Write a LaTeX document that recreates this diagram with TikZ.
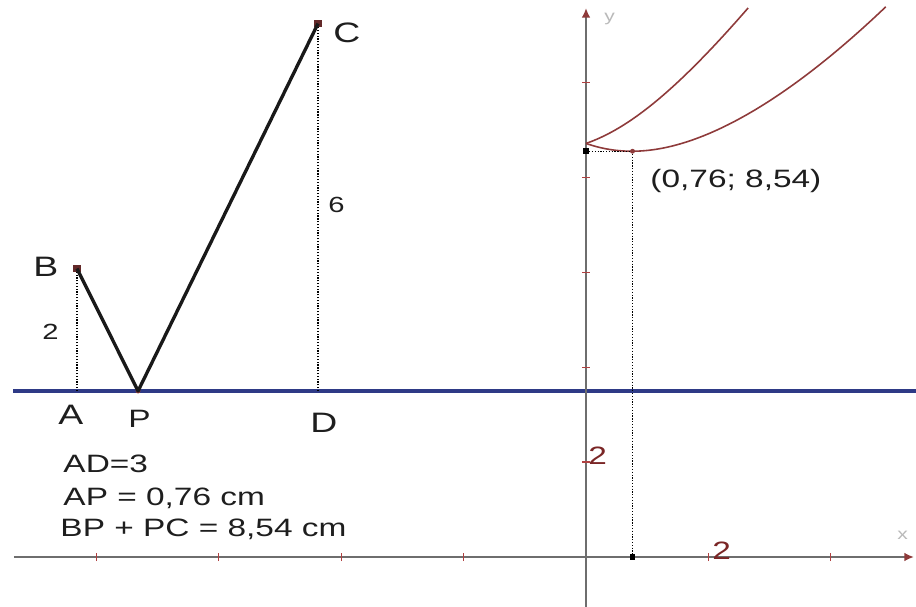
\documentclass[tikz,border=0pt]{standalone}
\usepackage{fontspec}
\setmainfont{Liberation Sans}
\usetikzlibrary{arrows.meta}
\definecolor{lineblue}{HTML}{2E3A86}
\definecolor{curvered}{HTML}{8E3A3A}
\definecolor{axisgray}{HTML}{6E6E6E}
\definecolor{tickred}{HTML}{B04040}
\definecolor{numred}{HTML}{7A2626}
\definecolor{textgray}{HTML}{1E1E1E}

\begin{document}
\begin{tikzpicture}[x=0.02cm, y=-0.02cm,
  txt/.style={anchor=base west, inner sep=0pt, xscale=1.33, text=textgray, font=\fontsize{14.3}{16}\selectfont},
  ptlabel/.style={txt, font=\fontsize{16}{18}\selectfont},
  numlabel/.style={txt, font=\fontsize{12.5}{14}\selectfont},
  rednum/.style={txt, text=numred},
  axislabel/.style={txt, text=gray!55, font=\fontsize{9}{10}\selectfont},
  ptmark/.style={rectangle, fill=curvered!70!black, inner sep=0pt, minimum size=4pt},
  blackmark/.style={rectangle, fill=black, inner sep=0pt, minimum size=3.2pt},
  smallmark/.style={circle, fill=curvered, inner sep=0pt, minimum size=2.8pt},
  seg/.style={line width=1.9pt, black!90},
  dotline/.style={black, line width=0.7pt, dash pattern=on 0.7pt off 0.9pt},
  axis/.style={axisgray, line width=1.3pt, -{Latex[length=5.5pt,width=5pt,color=curvered]}},
  tick/.style={tickred, line width=0.6pt},
  curve/.style={curvered, line width=0.9pt}]
\useasboundingbox (0,0) rectangle (916,607);

% horizontal line through A, P and D
\coordinate (bl) at (13,391);
\coordinate (br) at (916,391);
\draw[lineblue, line width=2.1pt] (bl) -- (br);

% the broken path B - P - C
\begin{scope}[shift={(77,391)}, x=1.607cm, y=1.225cm]
  \coordinate (A) at (0,0);
  \coordinate (D) at (3,0);
  \node[smallmark] (P) at (0.76,0) {};
  \node[ptmark] (B) at (0,2) {};
  \node[ptmark] (C) at (3,6) {};
\end{scope}
\draw[dotline] (A) -- (B);
\draw[dotline] (D) -- (C);
\draw[seg, line join=round] (B.center) -- (P.center) -- (C.center);

\node[ptlabel] (lB) at (33,277) {B};
\node[ptlabel] (lC) at (333,43) {C};
\node[ptlabel] (lA) at (58,425) {A};
\node[txt] (lP) at (128,428) {P};
\node[ptlabel] (lD) at (310,433) {D};
\node[numlabel] (l2) at (42,340) {2};
\node[numlabel] (l6) at (328,213) {6};

\node[txt] (ad) at (63,473) {AD=3};
\node[txt] (ap) at (63,505) {AP = 0,76 cm};
\node[txt] (sum) at (60,537) {BP + PC = 8,54 cm};

% graph of BP + PC against AP
\begin{scope}[shift={(586,557)}, x=1.224cm, y=0.95cm]
  \coordinate (xa0) at (-9.35,0);
  \coordinate (xa1) at (5.36,0);
  \coordinate (ya0) at (0,-1.1);
  \coordinate (ya1) at (0,11.56);
  \draw[axis] (xa0) -- (xa1);
  \draw[axis] (ya0) -- (ya1);
  \foreach \t in {-8,-6,-4,-2,2,4}{
    \draw[tick] (\t,-0.085) -- (\t,0.085);
  }
  \foreach \t in {2,4,...,10}{
    \draw[tick] (-0.065,\t) -- (0.065,\t);
  }
  \draw[curve, domain=0:4.9, samples=60, smooth] plot (\x, {sqrt(\x*\x+4)+sqrt((3-\x)*(3-\x)+36)});
  \draw[curve, domain=0:2.65, samples=40, smooth] plot (\x, {sqrt(\x*\x+4)+sqrt((3+\x)*(3+\x)+36)});
  \node[smallmark] (M) at (0.76,8.544) {};
  \node[blackmark] (Mx) at (0.76,0) {};
  \node[blackmark] (My) at (0,8.544) {};
\end{scope}
\draw[dotline] (My) -- (M);
\draw[dotline] (M) -- (Mx);

\node[txt] (mlabel) at (650,188) {(0,76; 8,54)};
\node[rednum] (ytick) at (588,465) {2};
\node[rednum] (xtick) at (712,560) {2};
\node[axislabel] (xname) at (897,540) {x};
\node[axislabel] (yname) at (604,22) {y};
\end{tikzpicture}
\end{document}
